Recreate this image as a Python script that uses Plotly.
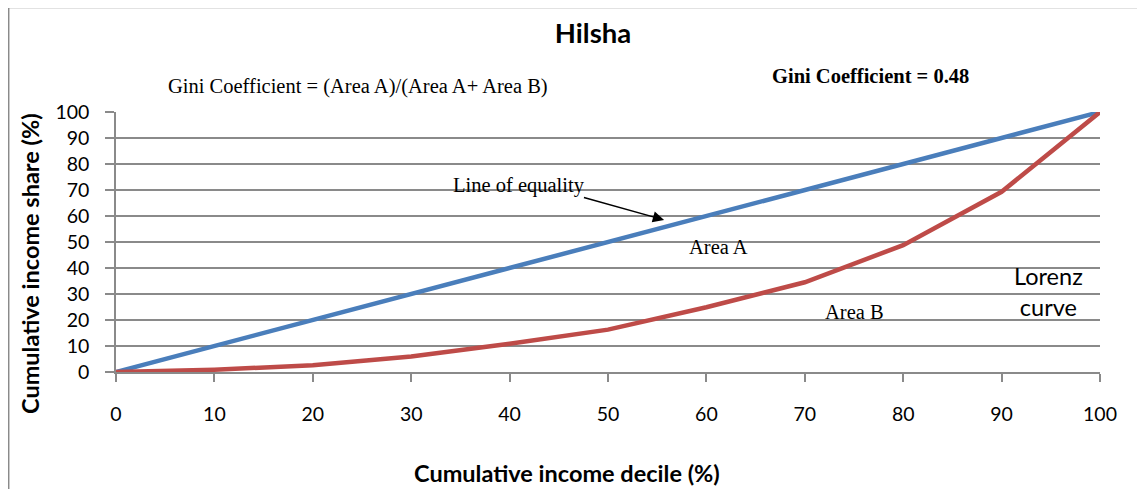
import plotly.graph_objects as go

deciles = [0, 10, 20, 30, 40, 50, 60, 70, 80, 90, 100]
equality = [0, 10, 20, 30, 40, 50, 60, 70, 80, 90, 100]
lorenz = [0, 0.9, 2.6, 6.0, 10.9, 16.3, 24.9, 34.5, 48.8, 69.3, 100]
tick_vals = [0, 10, 20, 30, 40, 50, 60, 70, 80, 90, 100]

SANS = "Lato, 'Open Sans', sans-serif"
SERIF = "'Liberation Serif', 'DejaVu Serif', serif"

fig = go.Figure()
fig.add_trace(go.Scatter(x=deciles, y=equality, mode="lines",
                         line=dict(color="#4A7EBB", width=4.5), name="Line of equality",
                         showlegend=False))
fig.add_trace(go.Scatter(x=deciles, y=lorenz, mode="lines",
                         line=dict(color="#BE4B48", width=4.5), name="Lorenz curve",
                         showlegend=False))

grid = "#8a8a8a"
W, H = 1137, 481
fig.update_layout(
    width=W, height=H,
    margin=dict(l=108, r=45, t=104, b=117),
    paper_bgcolor="white", plot_bgcolor="white",
    title=dict(text="<b>Hilsha</b>", x=585 / W, xanchor="center", y=1 - 25 / H, yanchor="middle",
               font=dict(family=SANS, size=27.5, color="black")),
    xaxis=dict(range=[0, 100], tickvals=tick_vals, showgrid=False, zeroline=False,
               showline=True, linecolor=grid, linewidth=1.5,
               ticks="outside", ticklen=8, tickcolor=grid, tickwidth=1.5,
               ticklabelstandoff=16,
               tickfont=dict(family=SANS, size=19.5, color="black")),
    yaxis=dict(range=[0, 100], tickvals=tick_vals, showgrid=True, gridcolor=grid, gridwidth=1.5,
               zeroline=False, showline=True, linecolor=grid, linewidth=1.5,
               ticks="outside", ticklen=9, tickcolor=grid, tickwidth=1.5,
               ticklabelstandoff=12,
               tickfont=dict(family=SANS, size=19.5, color="black")),
)


def pann(text, px, py, family, size, **kw):
    d = dict(text=text, xref="paper", yref="paper",
             x=(px - 116) / 984, y=(372 - py) / 260, showarrow=False,
             xanchor="center", yanchor="middle",
             font=dict(family=family, size=size, color="black"))
    d.update(kw)
    return d


ann = []
ann.append(pann("<b>Cumulative income decile (%)</b>", 567, 473, SANS, 23.5))
ann.append(pann("<b>Cumulative income share (%)</b>", 30, 264, SANS, 23.5, textangle=-90))
ann.append(pann("Gini Coefficient = (Area A)/(Area A+ Area B)", 358, 87, SERIF, 20.5))
ann.append(pann("<b>Gini Coefficient = 0.48</b>", 870, 76, SERIF, 20.5))
ann.append(dict(text="Line of equality", x=47.9, y=71.9, xref="x", yref="y",
                xanchor="right", yanchor="middle", showarrow=False,
                font=dict(family=SERIF, size=20.5, color="black")))
ann.append(dict(text="", x=55.7, y=58.5, xref="x", yref="y", ax=47.4, ay=67.3,
                axref="x", ayref="y", showarrow=True, arrowhead=2, arrowsize=1.5,
                arrowwidth=1.5, arrowcolor="black"))
ann.append(dict(text="Area A", x=61.2, y=48.2, xref="x", yref="y", showarrow=False,
                font=dict(family=SERIF, size=20.5, color="black")))
ann.append(dict(text="Area B", x=75.0, y=23.2, xref="x", yref="y", showarrow=False,
                font=dict(family=SERIF, size=20.5, color="black")))
ann.append(dict(text="Lorenz<br>curve", x=94.8, y=30.8, xref="x", yref="y", showarrow=False,
                font=dict(family=SANS, size=23.5, color="black")))
fig.update_layout(annotations=ann)

fig.add_shape(type="rect", xref="paper", yref="paper",
              x0=(8.7 - 116) / 984, y0=(372 - 500) / 260, x1=(1160 - 116) / 984, y1=(372 - 7.5) / 260,
              line=dict(color="#8a8a8a", width=1.5), layer="below")

fig.write_html("out.html")
